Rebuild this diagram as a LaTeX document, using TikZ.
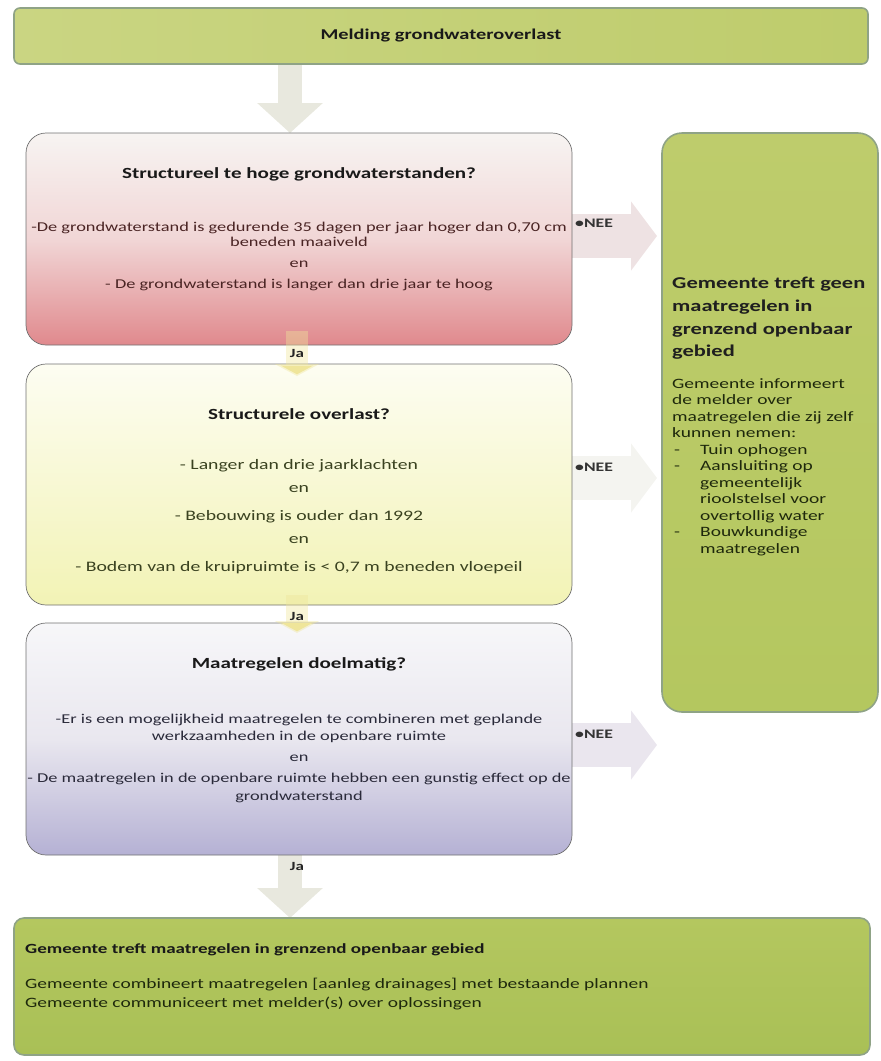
\documentclass[tikz,border=0pt]{standalone}
\usepackage{fontspec}
\setmainfont{Carlito}[FakeStretch=1.36]
\usetikzlibrary{arrows.meta}
\pgfdeclarelayer{bg}
\pgfsetlayers{bg,main}
\definecolor{greenA}{HTML}{CAD582}
\definecolor{greenB}{HTML}{BECC6C}
\definecolor{greenC}{HTML}{B4C75F}
\definecolor{greenD}{HTML}{A9C056}
\definecolor{greenedge}{HTML}{8FA386}
\definecolor{redtop}{HTML}{F7F4F2}
\definecolor{redmid}{HTML}{F1D6D6}
\definecolor{redbot}{HTML}{E0898D}
\definecolor{yeltop}{HTML}{FDFDF2}
\definecolor{yelbot}{HTML}{F2F3B5}
\definecolor{lavtop}{HTML}{F7F7F9}
\definecolor{lavmid}{HTML}{E9E7EF}
\definecolor{lavbot}{HTML}{B5B1D4}
\definecolor{boxedge}{HTML}{707070}
\definecolor{arrgray}{HTML}{E8E8DE}
\definecolor{neeA}{HTML}{EEE2E3}
\definecolor{neeB}{HTML}{F4F4F0}
\definecolor{neeC}{HTML}{EAE6EE}
\definecolor{jayel}{HTML}{EFE59A}
\definecolor{txtred}{HTML}{4A2424}
\definecolor{txtyel}{HTML}{3A4220}
\definecolor{txtlav}{HTML}{2A2A3A}
\definecolor{txtgrn}{HTML}{1E280C}
\newcommand\fbody{\fontsize{13.5}{16}\selectfont}
\newcommand\fbodyb{\fontsize{14.5}{17}\selectfont}
\newcommand\ftitle{\fontsize{15.5}{18}\selectfont\bfseries}
\newcommand\fright{\fontsize{14.3}{16.5}\selectfont}
\begin{document}
\begin{tikzpicture}[x=1pt,y=-1pt,
  greenbox/.style={draw=greenedge,line width=1.6pt,inner sep=0pt,outer sep=0pt},
  qbox/.style={draw=boxedge,line width=0.7pt,rounded corners=20pt,inner sep=0pt,outer sep=0pt,
    minimum width=546pt},
  bigarrow/.style={line width=24pt,-{Triangle[length=30pt,width=64pt]}},
  neearrow/.style={line width=44pt,-{Triangle[length=26pt,width=68pt]}},
  jaarrow/.style={line width=22pt,-{Triangle[length=12pt,width=44pt]},draw=jayel,draw opacity=0.4},
  ln/.style={anchor=base,font=\fbody,inner sep=0pt},
  ttl/.style={anchor=base,font=\ftitle,inner sep=0pt,text=black!90},
  jalbl/.style={anchor=base,font=\fontsize{12.5}{14}\selectfont\bfseries,inner sep=1pt,text=black!85},
  neelbl/.style={anchor=base west,font=\fontsize{13}{15}\selectfont\bfseries,inner sep=0pt,text=black!80},
  rtxt/.style={anchor=base west,font=\fright,inner sep=0pt,text=txtgrn},
  rttl/.style={anchor=base west,font=\fontsize{16.5}{20}\selectfont\bfseries,inner sep=0pt,text=black!88}
]
\useasboundingbox (0,0) rectangle (881,1061);

% ---------- boxes ----------
\node[greenbox,rounded corners=6pt,minimum width=854pt,minimum height=56pt,
  left color=greenA,right color=greenB] (melding) at (441,36) {};
\node[greenbox,rounded corners=20pt,minimum width=216pt,minimum height=579pt,
  top color=greenB,bottom color=greenC] (geen) at (770,422.5) {};
\node[greenbox,rounded corners=10pt,minimum width=856pt,minimum height=137pt,
  top color=greenC,bottom color=greenD] (treft) at (442,986.5) {};

\node[qbox,minimum height=212pt,top color=redtop,bottom color=redbot,middle color=redmid] (q1) at (299,239) {};
\node[qbox,minimum height=241pt,top color=yeltop,bottom color=yelbot] (q2) at (299,484.5) {};
\node[qbox,minimum height=232pt,top color=lavtop,bottom color=lavbot,middle color=lavmid] (q3) at (299,739) {};

% ---------- connectors (behind) ----------
\begin{pgfonlayer}{bg}
\draw[bigarrow,draw=arrgray] ([xshift=-151pt]melding.south) -- ([xshift=-9pt]q1.north);
\draw[bigarrow,draw=arrgray] ([xshift=-9pt]q3.south) -- ([xshift=-152pt]treft.north);
\draw[neearrow,draw=neeA] ([yshift=3pt]q1.east) -- ([xshift=-5pt,yshift=186.5pt]geen.west);
\draw[neearrow,draw=neeB] ([yshift=6.5pt]q2.east) -- ([xshift=-5pt,yshift=-55.5pt]geen.west);
\draw[neearrow,draw=neeC] ([yshift=-6pt]q3.east) -- ([xshift=-5pt,yshift=-322.5pt]geen.west);
\end{pgfonlayer}

% small Ja arrows between question boxes
\draw[jaarrow] ([xshift=-2pt,yshift=14pt]q1.south) -- ([xshift=-2pt,yshift=-12pt]q2.north);
\draw[jaarrow] ([xshift=-2pt,yshift=10pt]q2.south) -- ([xshift=-2pt,yshift=-10pt]q3.north);

% ---------- texts ----------
\node[anchor=base,font=\fontsize{15}{18}\selectfont\bfseries,inner sep=0pt,text=black!90] (t0) at (441,39) {Melding grondwateroverlast};

% box 1
\node[ttl] (t1) at (299,178) {Structureel te hoge grondwaterstanden?};
\node[ln,text=txtred] (t1a) at (299,231) {-De grondwaterstand is gedurende 35 dagen per jaar hoger dan 0,70 cm};
\node[ln,text=txtred] (t1b) at (299,246) {beneden maaiveld};
\node[ln,text=txtred] (t1c) at (299,267) {en};
\node[ln,text=txtred] (t1d) at (299,288) {- De grondwaterstand is langer dan drie jaar te hoog};

% box 2
\node[ttl] (t2) at (299,419) {Structurele overlast?};
\node[ln,font=\fbodyb,text=txtyel] (t2a) at (299,469) {- Langer dan drie jaarklachten};
\node[ln,font=\fbodyb,text=txtyel] (t2b) at (299,492) {en};
\node[ln,font=\fbodyb,text=txtyel] (t2c) at (299,520) {- Bebouwing is ouder dan 1992};
\node[ln,font=\fbodyb,text=txtyel] (t2d) at (299,543) {en};
\node[ln,font=\fbodyb,text=txtyel] (t2e) at (299,571) {- Bodem van de kruipruimte is < 0,7 m beneden vloepeil};

% box 3
\node[ttl] (t3) at (299,668) {Maatregelen doelmatig?};
\node[ln,text=txtlav] (t3a) at (299,723) {-Er is een mogelijkheid maatregelen te combineren met geplande};
\node[ln,text=txtlav] (t3b) at (299,740) {werkzaamheden in de openbare ruimte};
\node[ln,text=txtlav] (t3c) at (299,761) {en};
\node[ln,text=txtlav] (t3d) at (299,782) {- De maatregelen in de openbare ruimte hebben een gunstig effect op de};
\node[ln,text=txtlav] (t3e) at (299,800) {grondwaterstand};

% Ja labels
\node[jalbl] (ja1) at (297,357) {Ja};
\node[jalbl] (ja2) at (297,620) {Ja};
\node[jalbl] (ja3) at (297,870) {Ja};

% NEE labels
\node[neelbl] (nee1) at (575,227) {\textbullet NEE};
\node[neelbl] (nee2) at (575,471) {\textbullet NEE};
\node[neelbl] (nee3) at (575,738) {\textbullet NEE};

% right box
\node[rttl] (r1) at (672,288) {Gemeente treft geen};
\node[rttl] (r2) at (672,311) {maatregelen in};
\node[rttl] (r3) at (672,334) {grenzend openbaar};
\node[rttl] (r4) at (672,356) {gebied};
\node[rtxt] (r5) at (672,388) {Gemeente informeert};
\node[rtxt] (r6) at (672,404.5) {de melder over};
\node[rtxt] (r7) at (672,421) {maatregelen die zij zelf};
\node[rtxt] (r8) at (672,437.5) {kunnen nemen:};
\node[rtxt] (r9) at (674,454) {-};
\node[rtxt] (r10) at (700,454) {Tuin ophogen};
\node[rtxt] (r11) at (674,470.5) {-};
\node[rtxt] (r12) at (700,470.5) {Aansluiting op};
\node[rtxt] (r13) at (700,487) {gemeentelijk};
\node[rtxt] (r14) at (700,503.5) {rioolstelsel voor};
\node[rtxt] (r15) at (700,520) {overtollig water};
\node[rtxt] (r16) at (674,536.5) {-};
\node[rtxt] (r17) at (700,536.5) {Bouwkundige};
\node[rtxt] (r18) at (700,553) {maatregelen};

% bottom box
\node[anchor=base west,font=\fontsize{14}{17}\selectfont\bfseries,inner sep=0pt,text=black!90] (b1) at (25,953) {Gemeente treft maatregelen in grenzend openbaar gebied};
\node[anchor=base west,font=\fontsize{14.3}{18}\selectfont,inner sep=0pt,text=txtgrn] (b2) at (25,988) {Gemeente combineert maatregelen [aanleg drainages] met bestaande plannen};
\node[anchor=base west,font=\fontsize{14.3}{18}\selectfont,inner sep=0pt,text=txtgrn] (b3) at (25,1007) {Gemeente communiceert met melder(s) over oplossingen};
\end{tikzpicture}
\end{document}
